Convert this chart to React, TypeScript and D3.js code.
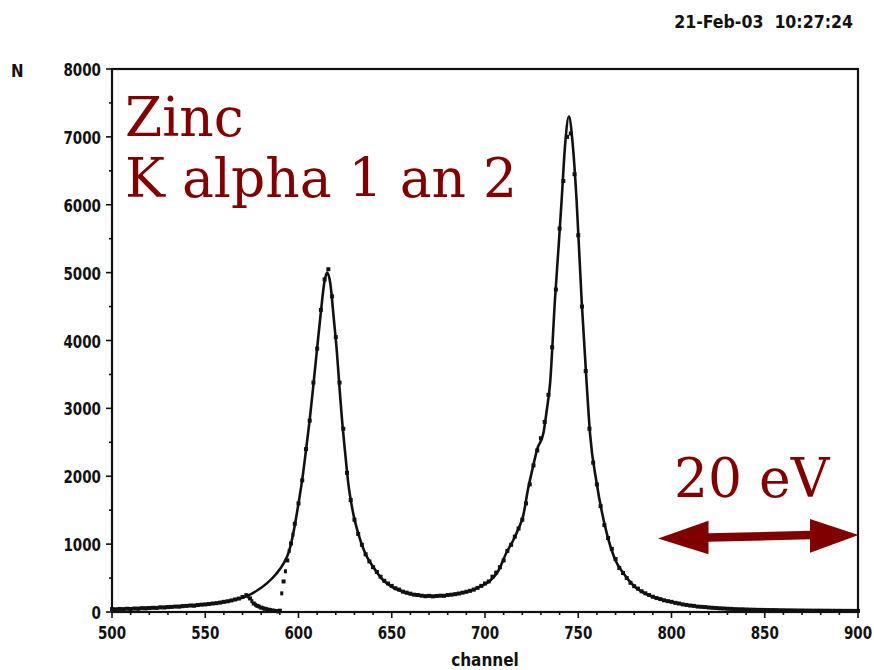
import React, { useEffect, useRef } from 'react';
import * as d3 from 'd3';

// measured spectrum, one value every 2 channels starting at 500
const dataStart = 500;
const dataStep = 2;
const dataCounts = [
  42, 38, 45, 40, 48, 44, 50, 47, 55, 52,
  58, 62, 60, 68, 66, 72, 75, 80, 78, 86,
  90, 95, 92, 102, 108, 112, 118, 125, 130, 138,
  150, 158, 170, 185, 198, 222, 248, 200, 125, 90,
  65, 48, 34, 22, 14, 20, 450, 760, 1010, 1300,
  1600, 1940, 2400, 2820, 3380, 3880, 4450, 4900, 5050, 4650,
  4050, 3380, 2700, 2050, 1650, 1360, 1150, 990, 850, 745,
  660, 590, 520, 460, 420, 385, 350, 330, 300, 285,
  270, 255, 250, 240, 232, 238, 230, 236, 240, 238,
  250, 255, 262, 272, 285, 298, 312, 330, 355, 385,
  420, 450, 520, 580, 660, 760, 900, 990, 1110, 1230,
  1360, 1600, 1880, 2160, 2380, 2560, 2800, 3200, 3900, 4750,
  5650, 6350, 7000, 7050, 6450, 5550, 4500, 3550, 2700, 2200,
  1880, 1560, 1280, 1090, 930, 780, 650, 575, 500, 430,
  380, 345, 305, 275, 250, 225, 205, 190, 172, 160,
  150, 135, 125, 112, 104, 95, 90, 80, 76, 72,
  66, 62, 58, 54, 52, 48, 46, 42, 40, 40,
  37, 35, 34, 32, 31, 30, 29, 28, 27, 26,
  26, 24, 24, 23, 22, 22, 21, 21, 20, 20,
  20, 19, 19, 18, 18, 18, 17, 17, 17, 16,
  16,
];
// odd channels on the steep edge after the cut (shows as a dotted rise)
const edgeChannel = [573, 575, 577, 579, 581, 583, 585, 587, 589, 591, 593, 595, 597];
const edgeCounts = [230, 160, 105, 78, 56, 40, 28, 18, 8, 275, 600, 900, 1140];

// fitted curve (sum of the two lines)
const fitChannel = [
  500, 520, 540, 555, 565, 572, 578, 583, 588, 592, 595, 597, 600, 602, 604, 606, 608, 610, 612, 614,
  615.4, 617, 619, 620.5, 622, 623.2, 625, 626.7, 629, 632, 636, 640, 645, 650, 655, 660, 665, 670, 675, 680,
  686, 692, 697, 702.7, 707, 711.6, 715, 718, 720.5, 723, 725.9, 728, 731.3, 733, 734.9, 737.5, 739.5, 741.1, 743, 745,
  747, 749.1, 751.8, 754.5, 756.3, 759.9, 765.3, 770, 774.2, 780, 786, 792, 800, 808, 817, 826, 840, 853, 870, 885,
  900,
];
const fitCounts = [
  45, 65, 95, 130, 175, 230, 320, 422, 560, 717, 900, 1130, 1600, 1950, 2380, 2830, 3350, 3890, 4420, 4880,
  5000, 4850, 4300, 3860, 3300, 2877, 2350, 1896, 1500, 1159, 850, 667, 480, 370, 310, 265, 245, 236, 236, 250,
  275, 314, 370, 460, 600, 880, 1050, 1230, 1420, 1800, 2160, 2400, 2633, 2950, 3369, 4597, 5400, 6070, 6900, 7300,
  6900, 6070, 4597, 3369, 2633, 1896, 1159, 760, 570, 380, 270, 202, 150, 103, 75, 54, 38, 29, 23, 20,
  17,
];

const xTicks = [500, 550, 600, 650, 700, 750, 800, 850, 900];
const yTicks = [0, 1000, 2000, 3000, 4000, 5000, 6000, 7000, 8000];

const stamp = '21-Feb-03  10:27:24';
const titleLines = ['Zinc', 'K alpha 1 an 2'];
const scaleLabel = '20 eV';

const W = 874;
const H = 670;
const red = '#800000';
const ink = '#111';
const tickFont = '"DejaVu Sans Condensed", "DejaVu Sans", sans-serif';
const squeeze = 0.81; // plotter font is narrower than any installed one

export default function App() {
  const svgRef = useRef<SVGSVGElement>(null);

  useEffect(() => {
    if (!svgRef.current) return;
    const svg = d3.select(svgRef.current);
    svg.selectAll('*').remove();

    const margin = { top: 69, right: 16, bottom: 58, left: 112 };
    const x = d3.scaleLinear().domain([500, 900]).range([margin.left, W - margin.right]);
    const y = d3.scaleLinear().domain([0, 8000]).range([H - margin.bottom, margin.top]);
    const x0 = x(500), x1 = x(900), y0 = y(0), y1 = y(8000);

    svg.append('rect').attr('width', W).attr('height', H).attr('fill', '#fff');

    // fit
    const line = d3.line<number>()
      .x((_, i) => x(fitChannel[i]))
      .y(d => y(d))
      .curve(d3.curveMonotoneX);
    svg.append('path')
      .datum(fitCounts)
      .attr('fill', 'none')
      .attr('stroke', ink)
      .attr('stroke-width', 2.6)
      .attr('d', line);

    // measured points
    const pts = svg.append('g').attr('fill', ink);
    pts.selectAll('rect.d')
      .data(dataCounts)
      .enter().append('rect')
      .attr('class', 'd')
      .attr('x', (_, i) => x(dataStart + i * dataStep) - 2)
      .attr('y', d => y(d) - 2)
      .attr('width', 4)
      .attr('height', 4);
    pts.selectAll('rect.e')
      .data(edgeCounts)
      .enter().append('rect')
      .attr('class', 'e')
      .attr('x', (_, i) => x(edgeChannel[i]) - 1.5)
      .attr('y', d => y(d) - 2)
      .attr('width', 3)
      .attr('height', 4);

    // frame
    svg.append('rect')
      .attr('x', x0).attr('y', y1)
      .attr('width', x1 - x0).attr('height', y0 - y1)
      .attr('fill', 'none').attr('stroke', ink).attr('stroke-width', 2.2);

    const label = (g: any, tx: number, ty: number, anchor: string, txt: string, sx = squeeze) =>
      g.append('text')
        .attr('transform', `translate(${tx},${ty}) scale(${sx},1)`)
        .attr('text-anchor', anchor)
        .attr('font-family', tickFont).attr('font-weight', 'bold').attr('font-size', 18.5)
        .attr('fill', ink)
        .attr('xml:space', 'preserve')
        .text(txt);

    // x ticks
    const xMinor = d3.range(500, 901, 10);
    svg.append('g').selectAll('line')
      .data(xMinor)
      .enter().append('line')
      .attr('x1', d => x(d)).attr('x2', d => x(d))
      .attr('y1', y0).attr('y2', d => y0 + (d % 50 === 0 ? 6 : 3))
      .attr('stroke', ink).attr('stroke-width', 1.6);
    const xl = svg.append('g');
    xTicks.forEach(t => label(xl, x(t), y0 + 27, 'middle', String(t)));

    // y ticks
    const yMinor = d3.range(0, 8001, 500);
    svg.append('g').selectAll('line')
      .data(yMinor)
      .enter().append('line')
      .attr('y1', d => y(d)).attr('y2', d => y(d))
      .attr('x1', x0).attr('x2', d => x0 - (d % 1000 === 0 ? 6 : 3))
      .attr('stroke', ink).attr('stroke-width', 1.6);
    const yl = svg.append('g');
    yTicks.forEach(t => label(yl, x0 - 11, y(t) + 7, 'end', String(t)));

    // axis titles + stamp
    label(svg, 11, 77, 'start', 'N', 0.9);
    svg.append('text').attr('x', 485).attr('y', 666)
      .attr('text-anchor', 'middle')
      .attr('font-family', tickFont).attr('font-weight', 'bold').attr('font-size', 17)
      .attr('fill', ink).text('channel');
    label(svg, 853, 28, 'end', stamp, 0.95);

    // annotations
    svg.append('g').selectAll('text')
      .data(titleLines)
      .enter().append('text')
      .attr('x', 125).attr('y', (_, i) => 136 + i * 61)
      .attr('font-family', '"DejaVu Serif", serif').attr('font-size', 53.5)
      .attr('fill', red)
      .text(d => d);
    svg.append('text').attr('x', 674).attr('y', 497)
      .attr('font-family', '"DejaVu Serif", serif').attr('font-size', 53.5)
      .attr('fill', red).text(scaleLabel);

    // double arrow
    const arrow = [
      [658, 538.5], [708.5, 520.7], [708.5, 533.3], [810, 530.7], [810, 519],
      [858.5, 535], [810, 552.7], [810, 539.3], [708.5, 541.7], [708.5, 554.3],
    ];
    svg.append('path')
      .attr('d', 'M' + arrow.map(p => p.join(',')).join('L') + 'Z')
      .attr('fill', red);
  }, []);

  return (
    <svg ref={svgRef} width={W} height={H}
      style={{ position: 'absolute', left: 0, top: 0, display: 'block' }} />
  );
}
